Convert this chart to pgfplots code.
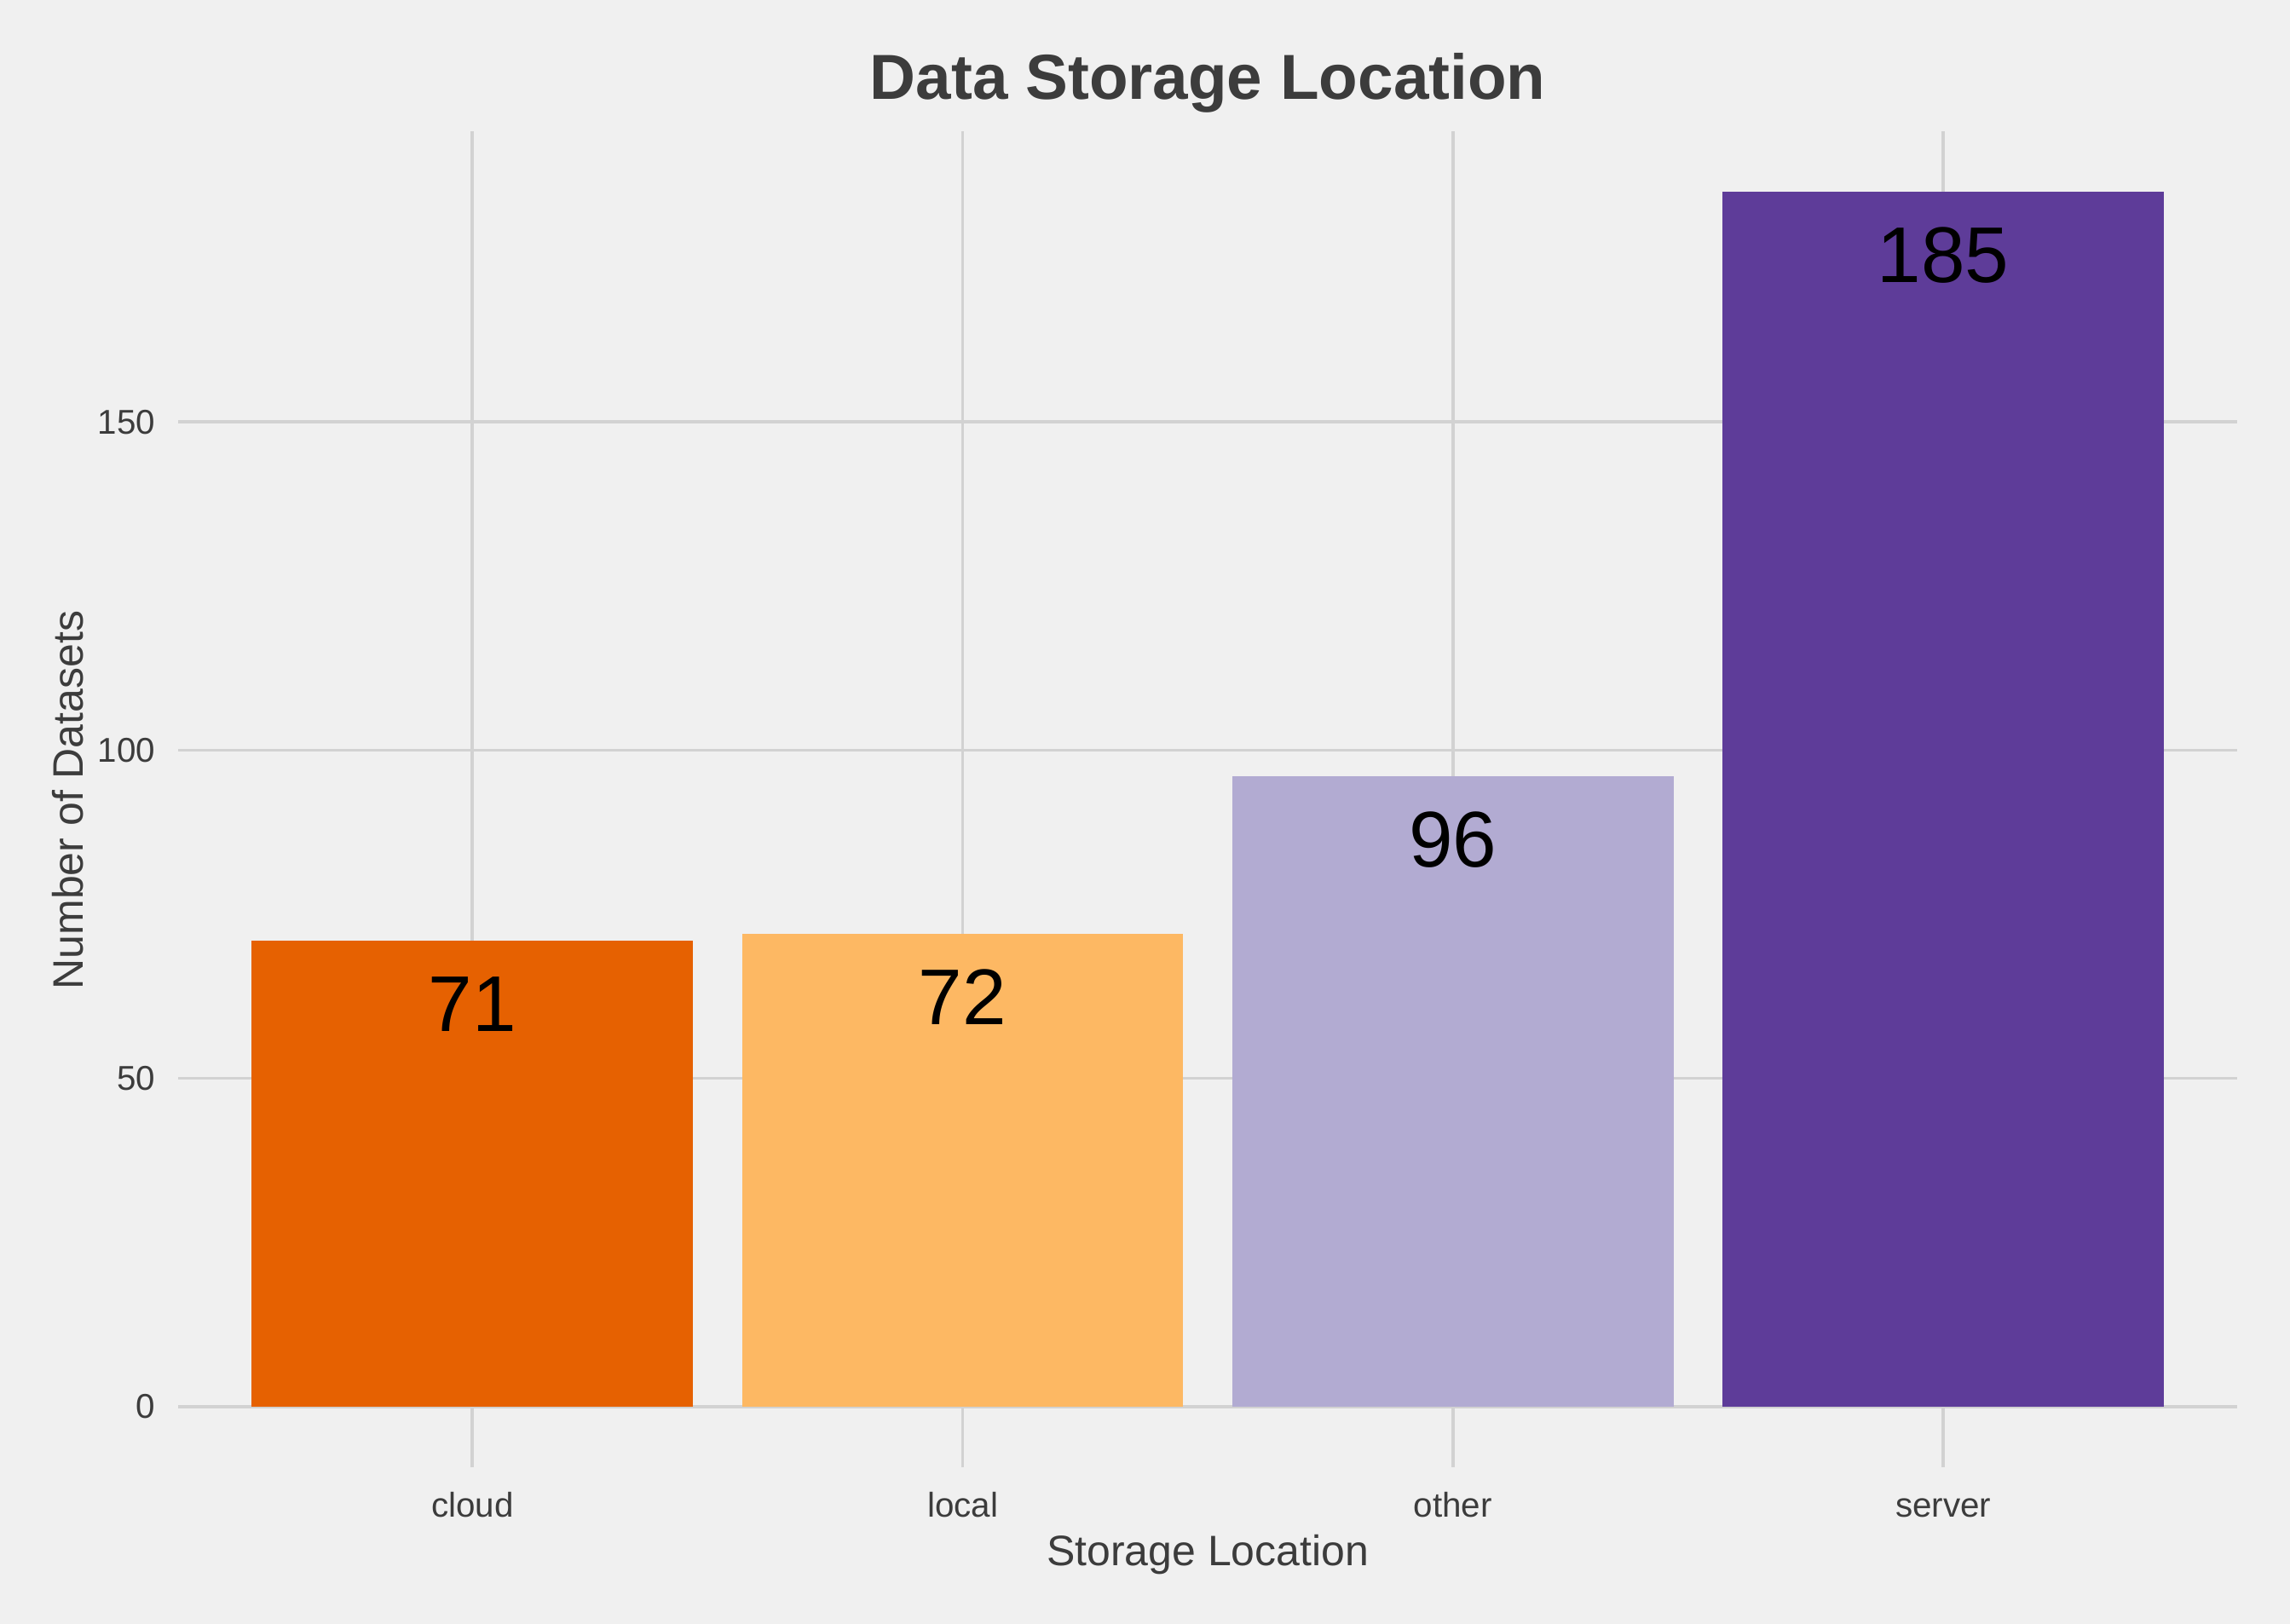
\documentclass[border=0pt]{standalone}
\usepackage{pgfplots}
\pgfplotsset{compat=1.18}
\usepackage{fontspec}
\setmainfont{Liberation Sans}

\definecolor{bg}{HTML}{F0F0F0}
\definecolor{gridc}{HTML}{D2D2D2}
\definecolor{txt}{HTML}{3C3C3C}
\definecolor{cCloud}{HTML}{E66101}
\definecolor{cLocal}{HTML}{FDB863}
\definecolor{cOther}{HTML}{B2ABD2}
\definecolor{cServer}{HTML}{5E3C99}

\begin{document}
\begin{tikzpicture}
\fill[bg] (0,0) rectangle (15.68,11.12);
\begin{axis}[
  at={(1.22cm,1.07cm)}, anchor=south west,
  scale only axis, width=14.10cm, height=9.15cm,
  xmin=-0.6, xmax=3.6, ymin=-9.25, ymax=194.25,
  xtick={0,1,2,3}, xticklabels={cloud,local,other,server},
  ytick={0,50,100,150},
  xmajorgrids, ymajorgrids,
  grid style={gridc, line width=0.6pt},
  axis line style={draw=none},
  major tick style={draw=none},
  /pgf/number format/assume math mode=true,
  ticklabel style={font=\fontsize{6.7}{8}\selectfont, text=txt, inner sep=0pt},
  xticklabel style={anchor=base, yshift=-0.19cm},
  yticklabel style={anchor=east, xshift=-0.15cm},
  ybar, bar width=0.9,
  nodes near coords,
  every node near coord/.append style={anchor=base, yshift=-0.62cm, font=\fontsize{15.4}{18}\selectfont, text=black},
]
\addplot[fill=cCloud, draw=none, bar shift=0pt] coordinates {(0,71)};
\addplot[fill=cLocal, draw=none, bar shift=0pt] coordinates {(1,72)};
\addplot[fill=cOther, draw=none, bar shift=0pt] coordinates {(2,96)};
\addplot[fill=cServer, draw=none, bar shift=0pt] coordinates {(3,185)};
\end{axis}
\node[anchor=base, text=txt, font=\fontsize{12.4}{15}\selectfont\bfseries] at (8.27,10.44) {Data Storage Location};
\node[anchor=base, text=txt, font=\fontsize{8.3}{10}\selectfont] at (8.27,0.40) {Storage Location};
\node[anchor=base, rotate=90, text=txt, font=\fontsize{8.3}{10}\selectfont] at (0.57,5.64) {Number of Datasets};
\end{tikzpicture}
\end{document}
